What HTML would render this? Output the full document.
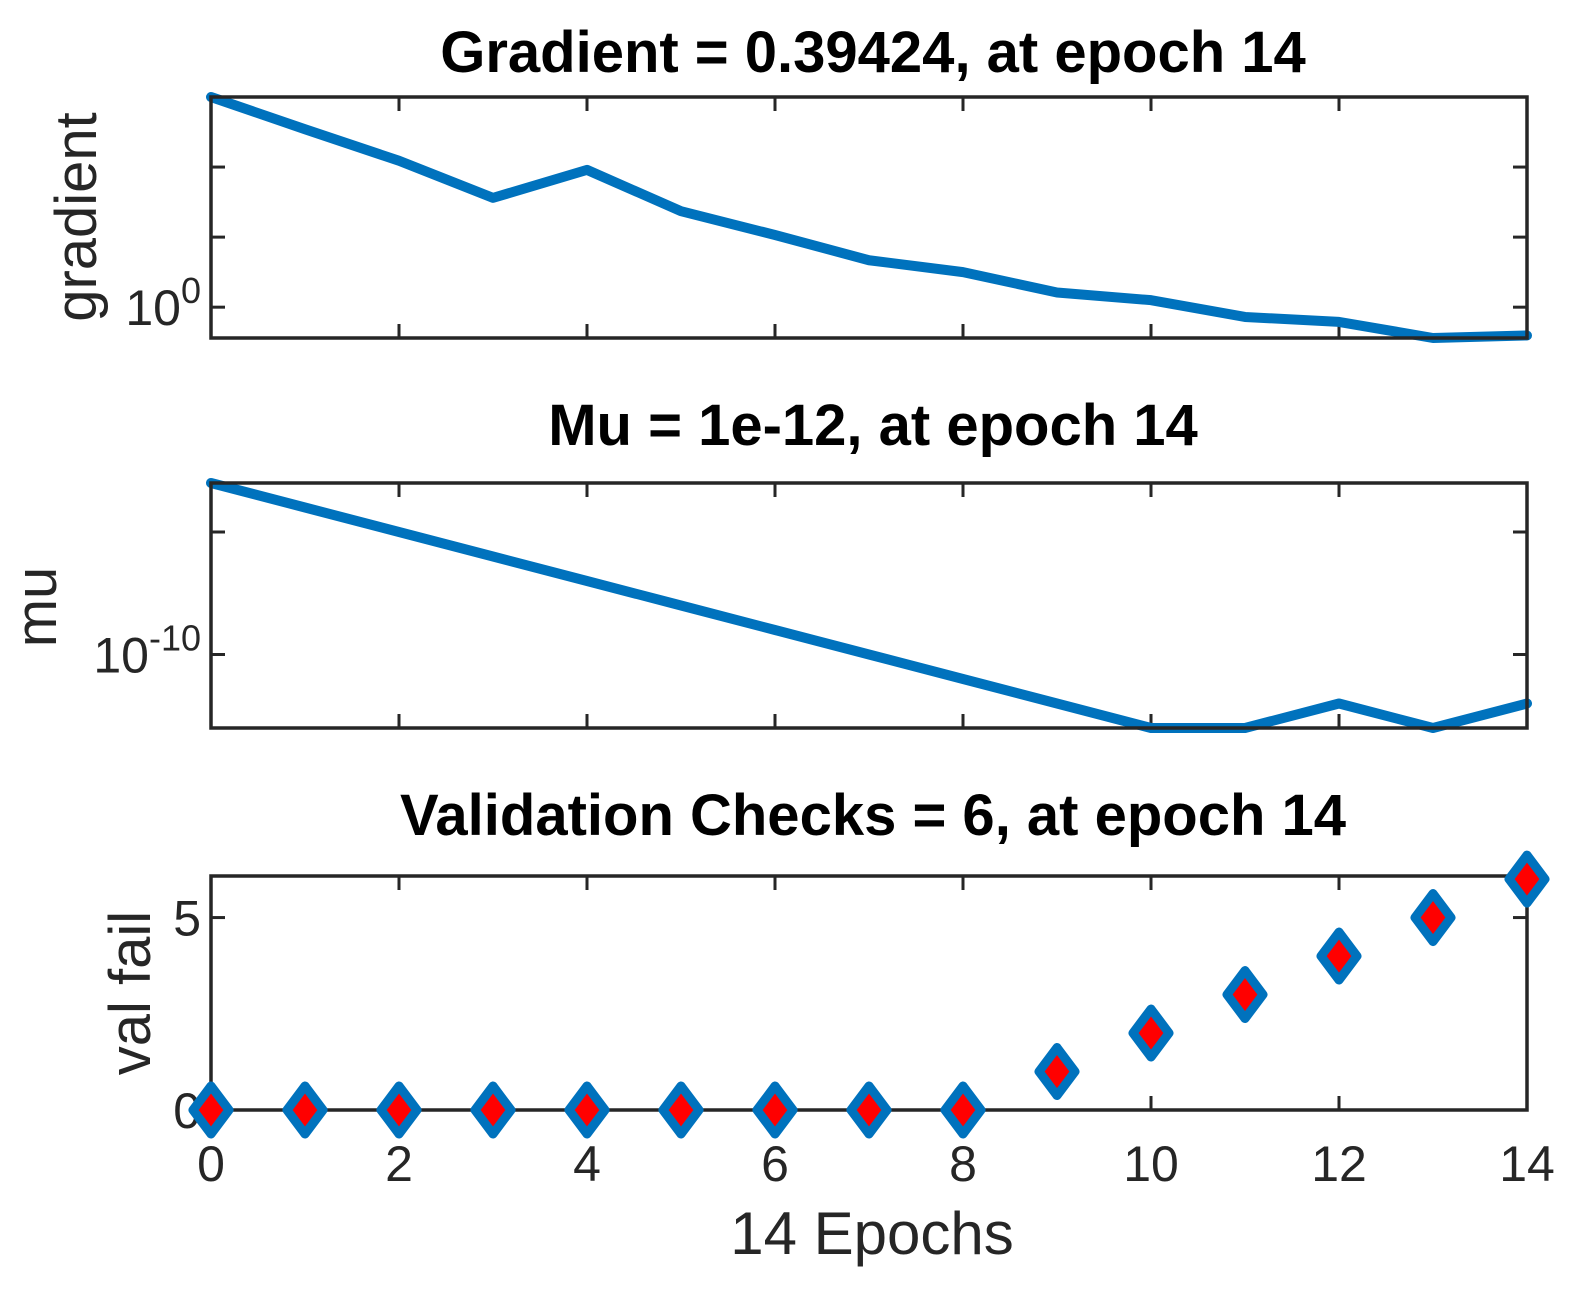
<!DOCTYPE html>
<html><head><meta charset="utf-8"><style>
html,body{margin:0;padding:0;background:#fff}
svg{display:block;font-family:"Liberation Sans",Arial,sans-serif}
</style></head><body>
<svg id="c" width="1596" height="1309" viewBox="0 0 1596 1309"></svg>
<script>
const epochs=[0,1,2,3,4,5,6,7,8,9,10,11,12,13,14];
const gradLog=[3.0,2.54,2.09,1.56,1.96,1.37,1.03,0.67,0.5,0.21,0.1,-0.14,-0.21,-0.44,-0.404];
const muLog=[-3,-4,-5,-6,-7,-8,-9,-10,-11,-12,-13,-13,-12,-13,-12];
const valFail=[0,0,0,0,0,0,0,0,0,1,2,3,4,5,6];
const xTicks=[0,2,4,6,8,10,12,14];
const titles=["Gradient = 0.39424, at epoch 14","Mu = 1e-12, at epoch 14","Validation Checks = 6, at epoch 14"];

const NS="http://www.w3.org/2000/svg";
const svg=document.getElementById('c');
function mk(t,a,p){const e=document.createElementNS(NS,t);for(const k in a)e.setAttribute(k,a[k]);(p||svg).appendChild(e);return e;}
const X0=211,X1=1527;
const xs=v=>X0+(v-0)/(14-0)*(X1-X0);
const BLUE="#0072BD";

const panels=[
 {top:97,bot:338,ymin:-0.44,ymax:3.0,vals:gradLog,yTicks:[0,1,2],labelTicks:[0],title:titles[0],ty:72,ylab:"gradient",ylx:78,yly:217,name:"gradient"},
 {top:483,bot:728,ymin:-13,ymax:-3,vals:muLog,yTicks:[-10,-5],labelTicks:[-10],title:titles[1],ty:445,ylab:"mu",ylx:38,yly:607,name:"mu"},
 {top:876,bot:1110,ymin:0,ymax:6.08,vals:valFail,yTicks:[0,5],labelTicks:[0,5],title:titles[2],ty:835,ylab:"val fail",ylx:132,yly:993,name:"val-fail"}
];
panels.forEach((P,pi)=>{
 const ys=v=>P.bot-(v-P.ymin)/(P.ymax-P.ymin)*(P.bot-P.top);
 const g=mk('g',{});
 
 
 const t=mk('text',{x:873,y:P.ty,'text-anchor':'middle','font-size':58,'font-weight':'bold',fill:'#000'},g);
 t.textContent=P.title;
 
 
 const yl=mk('text',{x:P.ylx,y:P.yly,'text-anchor':'middle','font-size':58,fill:'#262626',transform:`rotate(-90 ${P.ylx} ${P.yly})`,dy:18},g);
 yl.textContent=P.ylab;
 
 
 xTicks.forEach(v=>{
  mk('line',{x1:xs(v),x2:xs(v),y1:P.bot,y2:P.bot-14,stroke:'#262626','stroke-width':3},g);
  mk('line',{x1:xs(v),x2:xs(v),y1:P.top,y2:P.top+14,stroke:'#262626','stroke-width':3},g);
  if(pi===2){const tl=mk('text',{x:xs(v),y:1181,'text-anchor':'middle','font-size':50,fill:'#262626'},g);tl.textContent=v;
   
   }
 });
 P.yTicks.forEach(v=>{
  const y=ys(v);
  mk('line',{x1:X0,x2:X0+14,y1:y,y2:y,stroke:'#262626','stroke-width':3},g);
  mk('line',{x1:X1,x2:X1-14,y1:y,y2:y,stroke:'#262626','stroke-width':3},g);
  if(P.labelTicks.includes(v)){
   const tl=mk('text',{x:X0-10,y:y+18,'text-anchor':'end','font-size':50,fill:'#262626'},g);
   
   
   if(pi<2){tl.textContent='10';const s=mk('tspan',{'font-size':36,dy:-22},tl);s.textContent=String(v);tl.setAttribute('x',X0-10);}
   else tl.textContent=v;
  }
 });
 if(pi<2){
  const d=epochs.map((e,i)=>(i?'L':'M')+xs(e)+' '+ys(P.vals[i])).join(' ');
  const p=mk('path',{d:d,fill:'none',stroke:BLUE,'stroke-width':10,'stroke-linejoin':'round','stroke-linecap':'round'},g);
  
  
 }
 mk('rect',{x:X0,y:P.top,width:X1-X0,height:P.bot-P.top,fill:'none',stroke:'#262626','stroke-width':3.5},g);
 if(pi===2){
  epochs.forEach((e,i)=>{
   const cx=xs(e),cy=ys(P.vals[i]);
   const m=mk('polygon',{points:`${cx},${cy-24} ${cx+18},${cy} ${cx},${cy+24} ${cx-18},${cy}`,fill:'#FF0000',stroke:BLUE,'stroke-width':9,'stroke-linejoin':'round'},g);
   
   
  });
 }
});
const xl=mk('text',{x:872,y:1254,'text-anchor':'middle','font-size':60,fill:'#262626'});
xl.textContent='14 Epochs';


</script>
</body></html>
